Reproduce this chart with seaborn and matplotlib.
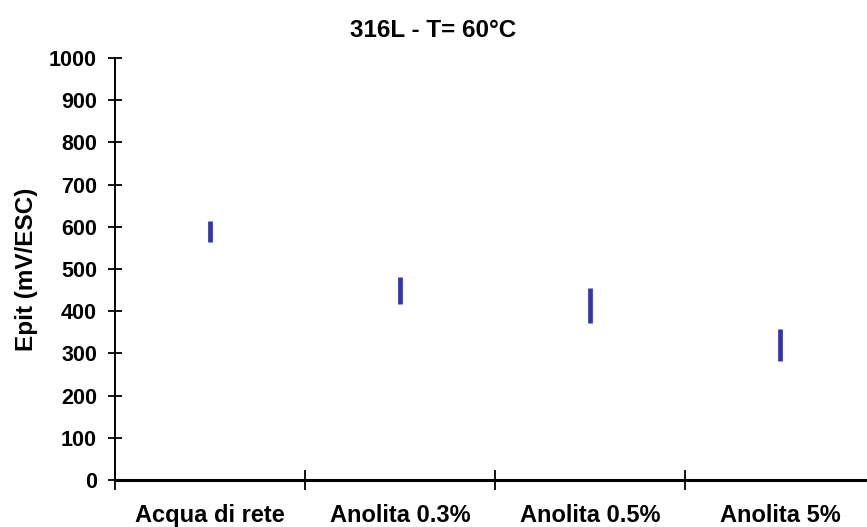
import numpy as np
import pandas as pd
import matplotlib
matplotlib.use("Agg")
import matplotlib.pyplot as plt
import seaborn as sns

categories = ["Acqua di rete", "Anolita 0.3%", "Anolita 0.5%", "Anolita 5%"]
epit_min = [564, 418, 373, 281]
epit_max = [614, 482, 456, 357]
y_ticks = [0, 100, 200, 300, 400, 500, 600, 700, 800, 900, 1000]

sns.set_theme(style="white")
plt.rcParams["font.family"] = ["Liberation Sans", "DejaVu Sans"]
plt.rcParams["font.weight"] = "bold"
plt.rcParams["text.color"] = "black"
plt.rcParams["axes.labelcolor"] = "black"
plt.rcParams["xtick.color"] = "black"
plt.rcParams["ytick.color"] = "black"

rows = []
for i, c in enumerate(categories):
    rows.append({"cat": c, "pos": i, "epit": epit_min[i]})
    rows.append({"cat": c, "pos": i, "epit": epit_max[i]})
df = pd.DataFrame(rows)

fig = plt.figure(figsize=(8.67, 5.27), dpi=100)
W, H = 867, 527
ax = fig.add_axes([115 / W, 1 - 480 / H, (867 - 115) / W, (480 - 58) / H])

sns.lineplot(data=df, x="pos", y="epit", units="cat", estimator=None,
             color="#3535A8", lw=3.4, ax=ax, legend=False,
             solid_capstyle="butt")

ax.set_xticks(np.arange(len(categories)) - 0.5)
ax.set_xticklabels([])
ax.set_xticks(np.arange(len(categories)), minor=True)
ax.set_xticklabels(categories, minor=True, fontsize=17, fontweight="bold")
ax.set_yticks(y_ticks)
ax.set_yticklabels([str(v) for v in y_ticks], fontsize=15.5, fontweight="bold")
ax.set_ylim(0, 1000)
ax.set_xlim(-0.5, 3.5 - 8 / 190)
ax.tick_params(axis="x", which="major", bottom=True, direction="inout",
               length=14, width=1.3, color="black")
ax.tick_params(axis="x", which="minor", bottom=True, length=0, pad=17)
ax.tick_params(axis="y", left=True, direction="inout", length=10, width=1.3,
               color="black", pad=8)

for s in ["top", "right"]:
    ax.spines[s].set_visible(False)
ax.spines["left"].set_color("black")
ax.spines["left"].set_linewidth(1.4)
ax.spines["bottom"].set_color("black")
ax.spines["bottom"].set_linewidth(2.2)
ax.spines["bottom"].set_zorder(3)

ax.set_xlabel("")
ax.set_ylabel("Epit (mV/ESC)", fontsize=17.5, fontweight="bold", labelpad=8)
ax.set_title("316L - T= 60°C", fontsize=17.5, fontweight="bold", pad=15,
             x=(W / 2 - 115) / (867 - 115))
ax.grid(False)

fig.savefig("out.png", dpi=100)
